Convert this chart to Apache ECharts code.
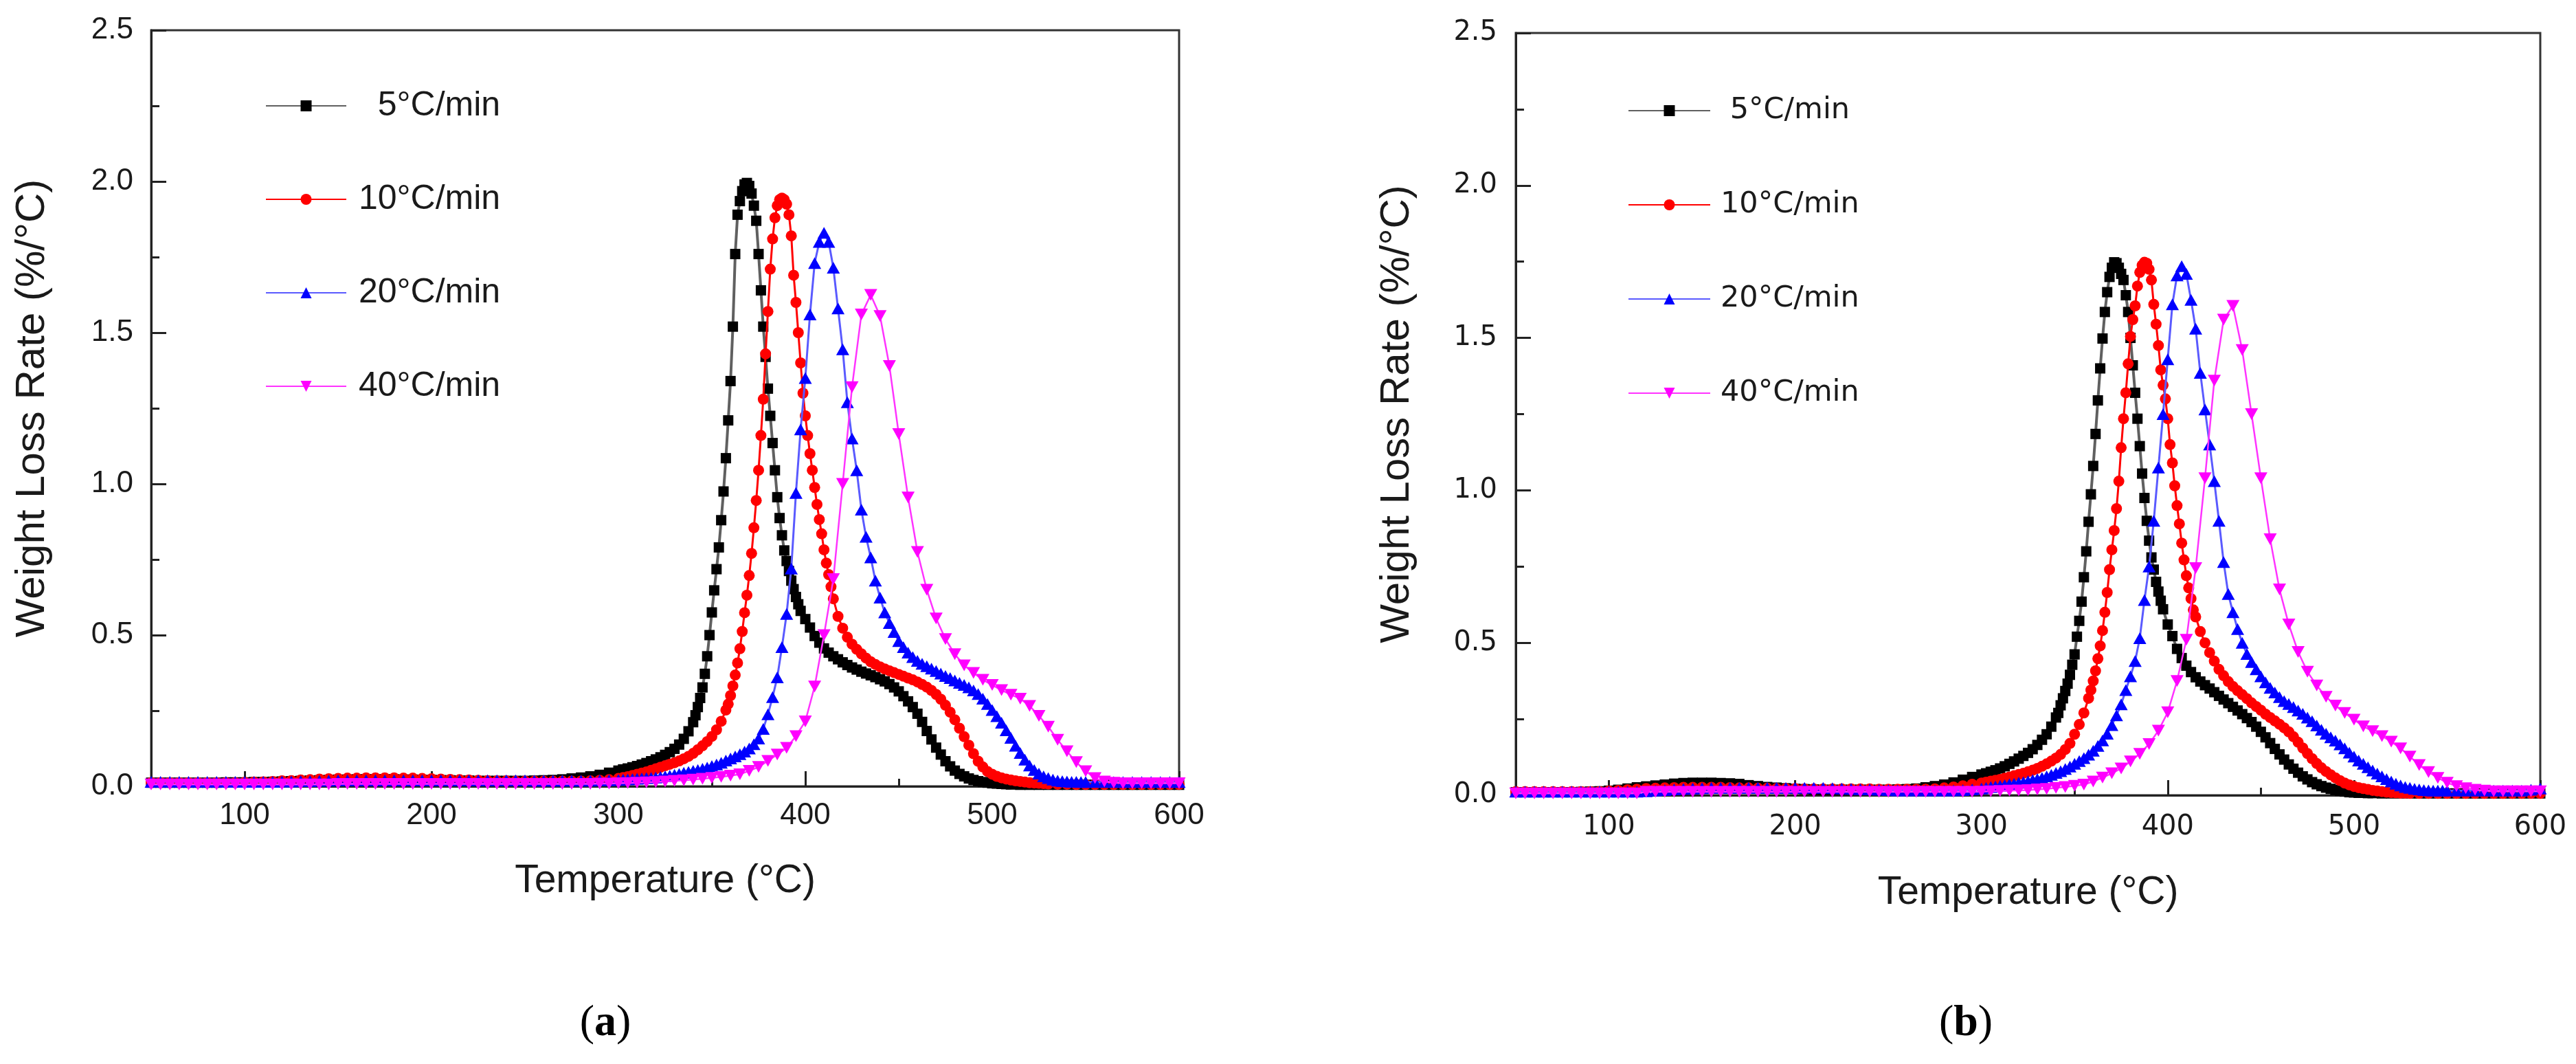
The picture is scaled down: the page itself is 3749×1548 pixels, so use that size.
<!DOCTYPE html>
<html><head><meta charset="utf-8">
<script src="https://cdn.jsdelivr.net/npm/echarts@6/dist/echarts.min.js"></script>
<style>html,body{margin:0;padding:0;background:#fff}#c{width:3749px;height:1548px}</style>
</head><body><div id="c"></div>
<script>
// ---------- data ----------
const seriesNames = ['5°C/min', '10°C/min', '20°C/min', '40°C/min'];
const xTickValues = [100, 200, 300, 400, 500, 600];
const xMinorTickValues = [150, 250, 350, 450, 550];
const yMin = 0, yMax = 2.5, yStep = 0.5;

// panel (a)
const a5 = [[50,.012],[55,.012],[60,.012],[65,.012],[70,.012],[75,.012],[80,.012],[85,.012],[90,.013],[95,.013],[100,.013],[105,.014],[110,.014],[115,.015],[120,.016],[125,.017],[130,.018],[135,.019],[140,.02],[145,.021],[150,.022],[155,.022],[160,.023],[165,.023],[170,.023],[175,.023],[180,.023],[185,.022],[190,.022],[195,.021],[200,.021],[205,.02],[210,.02],[215,.019],[220,.019],[225,.018],[230,.018],[235,.018],[240,.018],[245,.018],[250,.018],[255,.019],[260,.02],[265,.021],[270,.023],[275,.026],[280,.029],[285,.033],[290,.038],[295,.045],
[300,.052],[302.5,.056],[305,.059],[307.5,.063],[310,.067],[312.5,.072],[315,.077],[317.5,.083],[320,.089],[322.5,.096],[325,.104],[327.5,.113],[330,.124],[332.5,.138],[335,.157],[337.5,.182],[340,.212],
[341.25,.235],[342.5,.262],[343.75,.292],[345,.327],[346.25,.372],[347.5,.43],[348.75,.5],[350,.575],[351.25,.648],[352.5,.718],[353.75,.79],[355,.88],[356.25,.975],[357.5,1.085],[358.75,1.21],[360,1.34],[361.25,1.52],[362.5,1.76],[363.75,1.89],[365,1.935],[366.25,1.968],[367.5,1.99],[368.75,1.995],[370,1.985],[371.25,1.96],[372.5,1.92],[373.75,1.87],[375,1.76],[376.25,1.64],[377.5,1.52],[378.75,1.42],[380,1.315],[381.25,1.225],[382.5,1.135],[383.75,1.045],[385,.956],[386.25,.887],[387.5,.83],[388.75,.78],[390,.745],[391.25,.712],[392.5,.68],[393.75,.652],[395,.626],[396.25,.602],[397.5,.58],
[400,.553],[402.5,.525],[405,.497],[407.5,.475],[410,.456],[412.5,.442],[415,.43],[417.5,.42],[420,.41],[422.5,.401],[425,.393],[427.5,.386],[430,.379],[432.5,.373],[435,.367],[437.5,.361],[440,.354],[442.5,.347],[445,.338],[447.5,.327],[450,.314],[452.5,.298],[455,.281],[457.5,.262],[460,.24],[462.5,.213],[465,.183],[467.5,.155],[470,.128],[472.5,.105],[475,.083],[477.5,.066],[480,.052],[482.5,.041],[485,.033],[487.5,.026],[490,.021],[492.5,.017],[495,.014],[497.5,.012],[500,.01],[502.5,.009],[505,.008],[507.5,.007],[510,.006],
[515,.005],[520,.005],[525,.005],[530,.005],[535,.005],[540,.005],[545,.005],[550,.005],[555,.005],[560,.005],[565,.005],[570,.005],[575,.005],[580,.005],[585,.005],[590,.005],[595,.005],[600,.005]];

const a10 = [[50,.012],[55,.012],[60,.012],[65,.012],[70,.012],[75,.012],[80,.012],[85,.012],[90,.012],[95,.012],[100,.013],[105,.014],[110,.015],[115,.016],[120,.018],[125,.019],[130,.021],[135,.022],[140,.024],[145,.025],[150,.026],[155,.027],[160,.027],[165,.028],[170,.028],[175,.028],[180,.028],[185,.027],[190,.027],[195,.026],[200,.025],[205,.024],[210,.023],[215,.022],[220,.021],[225,.02],[230,.019],[235,.018],[240,.018],[245,.017],[250,.017],[255,.017],[260,.017],[265,.017],[270,.017],[275,.017],[280,.017],[285,.018],[290,.02],[295,.022],
[300,.026],[302.5,.029],[305,.032],[307.5,.036],[310,.04],[312.5,.044],[315,.048],[317.5,.053],[320,.058],[322.5,.063],[325,.068],[327.5,.073],[330,.078],[332.5,.084],[335,.091],[337.5,.099],[340,.109],[342.5,.121],[345,.134],[347.5,.148],[350,.165],[352.5,.187],[355,.215],[357.5,.252],
[358.75,.272],[360,.3],[361.25,.332],[362.5,.368],[363.75,.408],[365,.455],[366.25,.512],[367.5,.574],[368.75,.632],[370,.697],[371.25,.77],[372.5,.855],[373.75,.945],[375,1.045],[376.25,1.16],[377.5,1.28],[378.75,1.43],[380,1.57],[381.25,1.71],[382.5,1.81],[383.75,1.88],[385,1.92],[386.25,1.94],[387.5,1.945],[388.75,1.94],[390,1.925],[391.25,1.89],[392.5,1.82],[393.75,1.69],[395,1.6],[396.25,1.5],[397.5,1.4],[398.75,1.3],[400,1.225],[401.25,1.16],[402.5,1.1],[403.75,1.045],[405,.988],[406.25,.932],[407.5,.882],[408.75,.835],[410,.782],[411.25,.738],[412.5,.7],[413.75,.66],[415,.62],
[417.5,.562],[420,.523],[422.5,.493],[425,.47],[427.5,.453],[430,.438],[432.5,.424],[435,.412],[437.5,.403],[440,.395],[442.5,.388],[445,.382],[447.5,.376],[450,.37],[452.5,.364],[455,.358],[457.5,.352],[460,.345],[462.5,.337],[465,.328],[467.5,.317],[470,.304],[472.5,.288],[475,.268],[477.5,.245],[480,.22],[482.5,.192],[485,.164],[487.5,.136],[490,.108],[492.5,.083],[495,.064],[497.5,.049],[500,.04],[502.5,.033],[505,.028],[507.5,.024],[510,.021],[512.5,.018],[515,.016],[517.5,.014],[520,.012],[522.5,.011],[525,.01],[527.5,.009],[530,.008],
[535,.007],[540,.007],[545,.006],[550,.006],[555,.006],[560,.006],[565,.006],[570,.006],[575,.006],[580,.006],[585,.006],[590,.006],[595,.006],[600,.006]];

const a20 = [[50,.015],[55,.015],[60,.015],[65,.015],[70,.015],[75,.015],[80,.015],[85,.015],[90,.015],[95,.015],[100,.015],[105,.015],[110,.015],[115,.015],[120,.016],[125,.016],[130,.017],[135,.017],[140,.018],[145,.019],[150,.02],[155,.02],[160,.02],[165,.02],[170,.02],[175,.02],[180,.02],[185,.02],[190,.02],[195,.02],[200,.02],[205,.02],[210,.02],[215,.02],[220,.02],[225,.02],[230,.02],[235,.02],[240,.02],[245,.02],[250,.02],[255,.019],[260,.019],[265,.019],[270,.019],[275,.019],[280,.019],[285,.019],[290,.02],[295,.02],
[300,.021],[302.5,.022],[305,.023],[307.5,.024],[310,.025],[312.5,.026],[315,.027],[317.5,.028],[320,.029],[322.5,.031],[325,.033],[327.5,.035],[330,.038],[332.5,.041],[335,.045],[337.5,.048],[340,.051],[342.5,.054],[345,.058],[347.5,.062],[350,.067],[352.5,.072],[355,.078],[357.5,.085],[360,.092],[362.5,.099],[365,.106],[367.5,.115],[370,.125],[372.5,.139],[375,.158],[377.5,.19],[380,.238],[382.5,.295],[385,.36],[387.5,.46],[390,.57],[392.5,.72],[395,.97],[397.5,1.18],[400,1.35],[402.5,1.56],[405,1.73],[407.5,1.8],[410,1.83],[412.5,1.8],[415,1.715],[417.5,1.58],[420,1.445],[422.5,1.27],[425,1.15],[427.5,1.045],[430,.915],[432.5,.825],[435,.757],[437.5,.68],[440,.624],[442.5,.575],[445,.54],[447.5,.51],[450,.48],[452.5,.46],[455,.442],[457.5,.427],[460,.415],[462.5,.405],[465,.397],[467.5,.389],[470,.381],[472.5,.373],[475,.365],[477.5,.358],[480,.35],[482.5,.342],[485,.335],[487.5,.327],[490,.317],[492.5,.305],[495,.29],[497.5,.272],[500,.252],[502.5,.232],[505,.21],[507.5,.185],[510,.16],[512.5,.134],[515,.11],[517.5,.088],[520,.069],[522.5,.054],[525,.042],[527.5,.033],[530,.027],[532.5,.022],[535,.019],[537.5,.017],[540,.016],[542.5,.015],[545,.015],[547.5,.014],[550,.014],
[555,.014],[560,.014],[565,.014],[570,.014],[575,.014],[580,.014],[585,.014],[590,.014],[595,.014],[600,.014]];

const a40 = [[50,.006],[55,.006],[60,.006],[65,.006],[70,.006],[75,.006],[80,.006],[85,.006],[90,.006],[95,.006],[100,.006],[105,.006],[110,.006],[115,.006],[120,.006],[125,.006],[130,.006],[135,.006],[140,.006],[145,.006],[150,.008],[155,.008],[160,.008],[165,.008],[170,.008],[175,.008],[180,.008],[185,.008],[190,.008],[195,.008],[200,.008],[205,.008],[210,.008],[215,.008],[220,.008],[225,.008],[230,.008],[235,.008],[240,.008],[245,.008],[250,.008],[255,.008],[260,.008],[265,.008],[270,.008],[275,.008],[280,.008],[285,.008],[290,.009],[295,.009],
[300,.01],[305,.011],[310,.012],[315,.013],[320,.014],[325,.016],[330,.018],[335,.02],[340,.022],[345,.025],[350,.028],[355,.031],[360,.035],[365,.04],[370,.051],[375,.064],[380,.084],[385,.105],[390,.127],[395,.166],[400,.215],[405,.33],[410,.5],[415,.685],[420,1.0],[425,1.32],[430,1.56],[435,1.625],[440,1.555],[445,1.39],[450,1.165],[455,.955],[460,.775],[465,.65],[470,.555],[475,.487],[480,.437],[485,.4],[490,.375],[495,.352],[500,.335],[505,.318],[510,.303],[515,.29],[520,.266],[525,.233],[530,.197],[535,.154],[540,.116],[545,.08],[550,.05],[555,.027],[560,.016],[565,.012],[570,.01],[575,.01],[580,.01],[585,.01],[590,.01],[595,.01],[600,.01]];

// panel (b)
const b5 = [[50,.01],[55,.01],[60,.01],[65,.01],[70,.01],[75,.01],[80,.01],[85,.011],[90,.012],[95,.013],[100,.015],[105,.018],[110,.022],[115,.026],[120,.029],[125,.032],[130,.035],[135,.038],[140,.04],[145,.041],[150,.041],[155,.041],[160,.04],[165,.039],[170,.037],[175,.033],[180,.03],[185,.027],[190,.025],[195,.023],[200,.021],[205,.02],[210,.019],[215,.018],[220,.018],[225,.018],[230,.018],[235,.018],[240,.018],[245,.018],[250,.018],[255,.019],[260,.02],[265,.022],[270,.026],[275,.03],[280,.035],[285,.042],[290,.051],[295,.06],
[300,.068],[302.5,.072],[305,.077],[307.5,.082],[310,.088],[312.5,.095],[315,.103],[317.5,.111],[320,.12],[322.5,.129],[325,.139],[327.5,.151],[330,.165],[332.5,.182],[335,.2],[337.5,.225],[340,.255],
[341.25,.27],[342.5,.295],[343.75,.318],[345,.342],[346.25,.366],[347.5,.395],[348.75,.428],[350,.462],[351.25,.52],[352.5,.572],[353.75,.635],[355,.715],[356.25,.8],[357.5,.897],[358.75,.987],[360,1.08],[361.25,1.185],[362.5,1.295],[363.75,1.4],[365,1.498],[366.25,1.585],[367.5,1.65],[368.75,1.7],[370,1.73],[371.25,1.748],[372.5,1.745],[373.75,1.73],[375,1.71],[376.25,1.69],[377.5,1.64],[378.75,1.585],[380,1.5],[381.25,1.41],[382.5,1.32],[383.75,1.235],[385,1.145],[386.25,1.055],[387.5,.975],[388.75,.9],[390,.835],[391.25,.78],[392.5,.74],[393.75,.7],[395,.668],[396.25,.638],[397.5,.61],
[400,.56],[402.5,.522],[405,.48],[407.5,.45],[410,.425],[412.5,.404],[415,.387],[417.5,.373],[420,.361],[422.5,.35],[425,.338],[427.5,.326],[430,.314],[432.5,.302],[435,.29],[437.5,.278],[440,.266],[442.5,.253],[445,.24],[447.5,.225],[450,.208],[452.5,.19],[455,.171],[457.5,.152],[460,.134],[462.5,.117],[465,.101],[467.5,.087],[470,.074],[472.5,.062],[475,.052],[477.5,.043],[480,.036],[482.5,.03],[485,.025],[487.5,.021],[490,.017],[492.5,.014],[495,.012],[497.5,.01],[500,.009],[502.5,.008],[505,.008],[507.5,.007],[510,.007],
[515,.006],[520,.006],[525,.006],[530,.006],[535,.006],[540,.006],[545,.006],[550,.006],[555,.006],[560,.006],[565,.006],[570,.006],[575,.006],[580,.006],[585,.006],[590,.006],[595,.006],[600,.006]];

const b10 = [[50,.012],[55,.012],[60,.012],[65,.012],[70,.012],[75,.012],[80,.012],[85,.012],[90,.012],[95,.012],[100,.014],[105,.016],[110,.018],[115,.02],[120,.022],[125,.023],[130,.024],[135,.025],[140,.026],[145,.026],[150,.026],[155,.026],[160,.026],[165,.025],[170,.024],[175,.024],[180,.023],[185,.023],[190,.022],[195,.022],[200,.022],[205,.021],[210,.021],[215,.021],[220,.021],[225,.021],[230,.021],[235,.021],[240,.021],[245,.02],[250,.02],[255,.02],[260,.02],[265,.02],[270,.02],[275,.021],[280,.024],[285,.027],[290,.031],[295,.036],
[300,.04],[302.5,.043],[305,.046],[307.5,.049],[310,.052],[312.5,.056],[315,.06],[317.5,.064],[320,.068],[322.5,.072],[325,.077],[327.5,.082],[330,.088],[332.5,.095],[335,.103],[337.5,.112],[340,.122],[342.5,.134],[345,.15],[347.5,.17],[350,.2],[352.5,.232],[355,.27],[357.5,.318],
[358.75,.345],[360,.375],[361.25,.408],[362.5,.448],[363.75,.49],[365,.54],[366.25,.6],[367.5,.665],[368.75,.74],[370,.805],[371.25,.868],[372.5,.94],[373.75,1.03],[375,1.14],[376.25,1.235],[377.5,1.32],[378.75,1.415],[380,1.505],[381.25,1.56],[382.5,1.605],[383.75,1.67],[385,1.715],[386.25,1.738],[387.5,1.748],[388.75,1.745],[390,1.725],[391.25,1.69],[392.5,1.61],[393.75,1.545],[395,1.475],[396.25,1.395],[397.5,1.345],[398.75,1.3],[400,1.235],[401.25,1.15],[402.5,1.09],[403.75,1.015],[405,.95],[406.25,.89],[407.5,.827],[408.75,.772],[410,.72],[411.25,.68],[412.5,.645],[413.75,.608],[415,.585],
[417.5,.537],[420,.5],[422.5,.468],[425,.44],[427.5,.413],[430,.392],[432.5,.373],[435,.357],[437.5,.343],[440,.33],[442.5,.317],[445,.303],[447.5,.291],[450,.279],[452.5,.266],[455,.255],[457.5,.244],[460,.233],[462.5,.221],[465,.208],[467.5,.192],[470,.174],[472.5,.155],[475,.137],[477.5,.12],[480,.104],[482.5,.09],[485,.078],[487.5,.067],[490,.057],[492.5,.048],[495,.04],[497.5,.034],[500,.029],[502.5,.025],[505,.022],[507.5,.019],[510,.016],[512.5,.014],[515,.012],[517.5,.01],[520,.009],[522.5,.008],[525,.007],[527.5,.007],[530,.006],
[535,.006],[540,.006],[545,.006],[550,.006],[555,.006],[560,.006],[565,.006],[570,.006],[575,.006],[580,.006],[585,.006],[590,.006],[595,.006],[600,.006]];

const b20 = [[50,.012],[55,.012],[60,.012],[65,.012],[70,.012],[75,.012],[80,.012],[85,.012],[90,.012],[95,.012],[100,.012],[105,.012],[110,.012],[115,.012],[120,.013],[125,.015],[130,.017],[135,.019],[140,.021],[145,.022],[150,.023],[155,.024],[160,.024],[165,.024],[170,.024],[175,.024],[180,.024],[185,.024],[190,.024],[195,.024],[200,.024],[205,.024],[210,.024],[215,.024],[220,.023],[225,.022],[230,.021],[235,.02],[240,.019],[245,.018],[250,.017],[255,.016],[260,.016],[265,.016],[270,.016],[275,.016],[280,.016],[285,.016],[290,.017],[295,.019],
[300,.022],[302.5,.024],[305,.027],[307.5,.029],[310,.031],[312.5,.033],[315,.036],[317.5,.038],[320,.041],[322.5,.043],[325,.046],[327.5,.05],[330,.053],[332.5,.057],[335,.062],[337.5,.067],[340,.073],[342.5,.079],[345,.086],[347.5,.094],[350,.103],[352.5,.112],[355,.122],[357.5,.133],[360,.146],[362.5,.162],[365,.18],[367.5,.202],[370,.23],[372.5,.262],[375,.298],[377.5,.345],[380,.39],[382.5,.44],[385,.515],[387.5,.64],[390,.75],[392.5,.9],[395,1.075],[397.5,1.25],[400,1.43],[402.5,1.61],[405,1.705],[407.5,1.735],[410,1.71],[412.5,1.625],[415,1.53],[417.5,1.385],[420,1.265],[422.5,1.15],[425,1.03],[427.5,.9],[430,.765],[432.5,.66],[435,.6],[437.5,.545],[440,.5],[442.5,.463],[445,.437],[447.5,.413],[450,.39],[452.5,.37],[455,.352],[457.5,.337],[460,.322],[462.5,.309],[465,.299],[467.5,.289],[470,.278],[472.5,.267],[475,.255],[477.5,.243],[480,.229],[482.5,.215],[485,.202],[487.5,.19],[490,.179],[492.5,.167],[495,.154],[497.5,.14],[500,.127],[502.5,.114],[505,.103],[507.5,.092],[510,.081],[512.5,.071],[515,.062],[517.5,.053],[520,.045],[522.5,.038],[525,.032],[527.5,.027],[530,.024],[532.5,.021],[535,.019],[537.5,.017],[540,.016],[542.5,.015],[545,.015],[547.5,.015],[550,.015],
[555,.015],[560,.015],[565,.015],[570,.015],[575,.015],[580,.015],[585,.015],[590,.015],[595,.018],[600,.022]];

const b40 = [[50,.006],[55,.006],[60,.006],[65,.006],[70,.006],[75,.006],[80,.006],[85,.006],[90,.006],[95,.006],[100,.006],[105,.006],[110,.006],[115,.006],[120,.011],[125,.011],[130,.011],[135,.011],[140,.011],[145,.011],[150,.011],[155,.011],[160,.011],[165,.011],[170,.011],[175,.011],[180,.011],[185,.011],[190,.011],[195,.011],[200,.011],[205,.011],[210,.011],[215,.011],[220,.011],[225,.011],[230,.011],[235,.011],[240,.011],[245,.011],[250,.011],[255,.011],[260,.011],[265,.011],[270,.011],[275,.011],[280,.011],[285,.011],[290,.011],[295,.011],
[300,.012],[305,.013],[310,.014],[315,.015],[320,.016],[325,.017],[330,.019],[335,.021],[340,.024],[345,.027],[350,.031],[355,.035],[360,.045],[365,.058],[370,.072],[375,.088],[380,.111],[385,.136],[390,.168],[395,.212],[400,.272],[405,.375],[410,.51],[415,.745],[420,1.04],[425,1.36],[430,1.56],[435,1.605],[440,1.46],[445,1.25],[450,1.04],[455,.84],[460,.675],[465,.56],[470,.47],[475,.405],[480,.36],[485,.323],[490,.294],[495,.27],[500,.248],[505,.226],[510,.21],[515,.194],[520,.176],[525,.154],[530,.127],[535,.099],[540,.076],[545,.057],[550,.041],[555,.03],[560,.023],[565,.018],[570,.015],[575,.013],[580,.013],[585,.013],[590,.013],[595,.013],[600,.013]];

// ---------- styling ----------
const SANS = '"Liberation Sans", Arial, sans-serif';
const DEJAVU = '"DejaVu Sans", sans-serif';
const SERIF = '"Liberation Serif", "Times New Roman", serif';
const INK = '#1a1a1a';
const AXIS = '#222';

const seriesStyles = [
  {symbol: 'rect', size: 15, rotate: 0, fill: '#000000', line: '#606060', lw: 4},
  {symbol: 'circle', size: 16, rotate: 0, fill: '#ff0000', line: '#ff0000', lw: 3},
  {symbol: 'triangle', size: [19, 17], rotate: 0, fill: '#0000ff', line: '#5a5aff', lw: 3},
  {symbol: 'triangle', size: [19, 17], rotate: 180, fill: '#ff00ff', line: '#ff33ff', lw: 2.5}
];

const panels = [
  {grid: {left: 220, top: 44, width: 1496, height: 1100}, data: [a5, a10, a20, a40],
   tickFont: SANS, tickSize: 44, xLabelMargin: 21, yLabelMargin: 26, xNameGap: 110, yNameGap: 143,
   legend: {left: 386, top: 129, itemWidth: 117, itemGap: 86, font: SANS, size: 50, pad: 13, lead: '  '},
   tag: 'a', tagX: 881, tagY: 1489},
  {grid: {left: 2206, top: 48, width: 1491, height: 1109}, data: [b5, b10, b20, b40],
   tickFont: DEJAVU, tickSize: 40, xLabelMargin: 27, yLabelMargin: 27, xNameGap: 114, yNameGap: 143,
   legend: {left: 2369, top: 136, itemWidth: 119, itemGap: 87, font: DEJAVU, size: 43, pad: 10, lead: ' '},
   tag: 'b', tagX: 2861, tagY: 1489}
];

const option = {animation: false, backgroundColor: '#ffffff', grid: [], xAxis: [], yAxis: [], series: [], legend: [], graphic: []};

panels.forEach((p, gi) => {
  option.grid.push(Object.assign({show: true, borderColor: '#333', borderWidth: 3, backgroundColor: 'transparent', containLabel: false}, p.grid));
  const xMain = option.xAxis.length;
  option.xAxis.push({
    type: 'value', gridIndex: gi, position: 'bottom', min: 50, max: 600,
    name: 'Temperature (°C)', nameLocation: 'middle', nameGap: p.xNameGap,
    nameTextStyle: {fontFamily: SANS, fontSize: 57, lineHeight: 57, color: INK},
    axisLine: {show: true, lineStyle: {color: AXIS, width: 3}},
    axisTick: {show: true, inside: true, length: 22, customValues: xTickValues, lineStyle: {color: AXIS, width: 3}},
    axisLabel: {show: true, customValues: xTickValues, margin: p.xLabelMargin, fontFamily: p.tickFont, fontSize: p.tickSize, lineHeight: p.tickSize, color: INK},
    splitLine: {show: false}
  });
  option.xAxis.push({
    type: 'value', gridIndex: gi, position: 'bottom', min: 50, max: 600,
    axisLine: {show: false},
    axisTick: {show: true, inside: true, length: 11, customValues: xMinorTickValues, lineStyle: {color: AXIS, width: 3}},
    axisLabel: {show: false}, splitLine: {show: false}
  });
  option.yAxis.push({
    type: 'value', gridIndex: gi, min: yMin, max: yMax, interval: yStep,
    name: 'Weight Loss Rate (%/°C)', nameLocation: 'middle', nameGap: p.yNameGap, nameRotate: 90,
    nameTextStyle: {fontFamily: SANS, fontSize: 60, lineHeight: 60, color: INK},
    axisLine: {show: true, lineStyle: {color: AXIS, width: 3}},
    axisTick: {show: true, inside: true, length: 22, lineStyle: {color: AXIS, width: 3}},
    minorTick: {show: true, splitNumber: 2, length: 12, lineStyle: {color: AXIS, width: 3}},
    axisLabel: {margin: p.yLabelMargin, fontFamily: p.tickFont, fontSize: p.tickSize, color: INK, formatter: v => v.toFixed(1)},
    splitLine: {show: false}, minorSplitLine: {show: false}
  });
  p.data.forEach((d, si) => {
    const st = seriesStyles[si];
    option.series.push({
      type: 'line', name: seriesNames[si], xAxisIndex: xMain, yAxisIndex: gi, data: d,
      symbol: st.symbol, symbolSize: st.size, symbolRotate: st.rotate, showSymbol: true, smooth: false,
      itemStyle: {color: st.fill, borderWidth: 0},
      lineStyle: {color: st.line, width: st.lw},
      emphasis: {disabled: true}, z: 3 + si
    });
  });
  const L = p.legend;
  option.legend.push({
    orient: 'vertical', left: L.left, top: L.top, itemWidth: L.itemWidth, itemHeight: 20, itemGap: L.itemGap,
    data: seriesNames, selectedMode: false, padding: 0,
    formatter: n => (n === seriesNames[0] ? L.lead + n : n),
    textStyle: {fontFamily: L.font, fontSize: L.size, lineHeight: 50, color: INK, padding: [0, 0, 0, L.pad]}
  });
  option.graphic.push({
    type: 'text', x: p.tagX, y: p.tagY, silent: true,
    style: {text: '{p|(}{b|' + p.tag + '}{p|)}', align: 'center', verticalAlign: 'middle',
      rich: {p: {fontFamily: SERIF, fontSize: 64, fill: '#000'}, b: {fontFamily: SERIF, fontSize: 64, fontWeight: 'bold', fill: '#000'}}}
  });
});

const chart = echarts.init(document.getElementById('c'), null, {renderer: 'canvas', width: 3749, height: 1548});
chart.setOption(option);
</script>
</body></html>
